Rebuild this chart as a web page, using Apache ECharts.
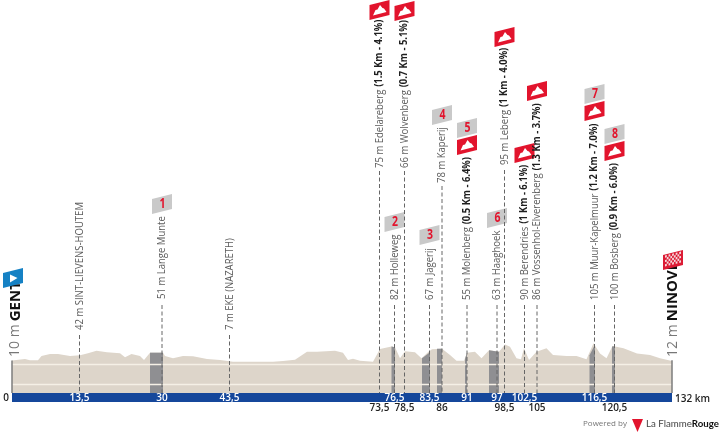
<!DOCTYPE html>
<html>
<head>
<meta charset="utf-8">
<style>html,body{margin:0;padding:0;background:#fff}#c{width:720px;height:435px}</style>
<script src="https://cdn.jsdelivr.net/npm/echarts@6/dist/echarts.min.js"></script>
</head>
<body>
<div id="c"></div>
<script>
// ---- values ----
const profileKm = [0,2.6,3.6,5.2,5.9,7.6,9.2,11.6,13.6,15.2,16.9,19,21.6,22.6,23.9,25.6,26.4,27.6,30.2,30.6,32.2,34.2,36.2,39,41.6,42,44.2,52.2,54.2,56.6,59,61,64.6,66.2,67.2,68.2,69.6,72.2,73.6,75.9,76.6,77.6,78.6,80.6,81.9,83.3,84,86,87.6,88.9,90.4,91,92.6,93.9,95.4,97.4,98.6,99.6,100.9,101.8,102.4,103.4,104.9,106.9,108.2,110.9,112.9,114.9,116.3,117.6,118.9,120.1,122.3,125,127.6,129.6,132];
const profileElevation = [10,19,12,12,35,47,47,36,40,51,65,56,51,28,47,36,13,54,54,36,23,36,34,19,13,3,3,3,8,15,59,59,65,54,13,20,9,3,75,88,84,23,62,56,23,59,73,76,41,9,9,54,59,23,68,59,100,87,23,18,78,13,59,78,41,35,35,17,106,50,23,91,78,50,41,23,8];
const climbKm = [[27.6,30.2],[75.9,76.6],[82,83.6],[85,86],[90.6,91],[95.4,97.4],[115.5,116.6],[120,120.6]];
const climbElevation = [[54,54],[88,84],[23,57],[76,76],[20,54],[68,59],[40,100],[88,90]];

const pointKm = [13.5,30,43.5,73.5,76.5,78.5,83.5,86,91,97,98.5,102.5,105,116.5,120.5];
const pointNames = ['42 m SINT-LIEVENS-HOUTEM','51 m Lange Munte','7 m EKE (NAZARETH)','75 m Edelareberg','82 m Holleweg','66 m Wolvenberg','67 m Jagerij','78 m Kaperij','55 m Molenberg','63 m Haaghoek','95 m Leberg','90 m Berendries','86 m Vossenhol-Elverenberg','105 m Muur-Kapelmuur','100 m Bosberg'];
const pointDetails = ['','','','(1.5 Km - 4.1%)','','(0.7 Km - 5.1%)','','','(0.5 Km - 6.4%)','','(1 Km - 4.0%)','(1 Km - 6.1%)','(1.3 Km - 3.7%)','(1.2 Km - 7.0%)','(0.9 Km - 6.0%)'];
const sectorNumbers = ['','1','','','2','','3','4','5','6','','','','7','8'];
const hasClimbFlag = [false,false,false,true,false,true,false,false,true,false,true,true,true,true,true];

const kmTicksInBand = [13.5,30,43.5,76.5,83.5,91,97,102.5,116.5];
const kmTicksBelow = [73.5,78.5,86,98.5,105,120.5];
const raceKm = 132, startName = 'GENT', finishName = 'NINOVE', startElevation = 10, finishElevation = 12;
const gridlineElevations = [-9,-120];

// ---- layout, kept apart from the values (page pixels) ----
const elevMin = -170, elevMax = 2013;
const textStartPx = [330,299,330,168,300,168,300,183,300,300,165,300,300,300,300];
const lineTopPx   = [335,305,335,171,305,171,305,186,305,305,170,305,305,305,305];
const sectorFlagPx= [0,194,0,0,212,0,225,105,118,208,0,0,0,84,124];
const climbFlagPx = [0,0,0,0,0,1,0,0,135,0,27,143,81,101,141];

const FONT = '"Open Sans", sans-serif';
const RED = '#e2142d', GREY = '#c9c9c9', TXT = '#5c5c5c', DARK = '#1f1f1f';

function flagPts(l, t) { return [[l,t+5],[l+20,t],[l+20,t+15],[l,t+20]]; }
function poly(pts, fill) { return {type:'polygon', shape:{points:pts}, style:{fill:fill}}; }
function mountain(l, t) {
  return poly([[3.5,15.5],[6,10],[8,9.5],[10.5,5],[13,8],[14.5,8.5],[17,12]].map(p=>[l+p[0],t+p[1]]), '#fff');
}
function rotText(x, y, text, rich, scaleX) {
  return {type:'text', x:x, y:y, rotation:Math.PI/2, scaleX:scaleX||1, silent:true,
    style:{text:text, rich:rich, align:'left', verticalAlign:'middle', fontFamily:FONT}};
}
const rich = {
  n:{fontFamily:FONT, fontSize:10.6, fill:TXT, color:TXT},
  b:{fontFamily:FONT, fontSize:10.4, fontWeight:'bold', fill:DARK, color:DARK}
};
const cityRich = {
  e:{fontFamily:FONT, fontSize:14, fill:'#777', color:'#777'},
  c:{fontFamily:FONT, fontSize:15, fontWeight:'bold', fill:'#111', color:'#111'}
};

function renderPoint(params, api) {
  const i = params.dataIndex;
  const x = api.coord([pointKm[i], 0])[0];
  const base = api.coord([pointKm[i], elevMin])[1];
  const kids = [{type:'line', shape:{x1:x,y1:lineTopPx[i],x2:x,y2:base},
    style:{stroke:'#666', lineWidth:1, lineDash:[4,2.5]}}];
  const t = '{n|'+pointNames[i]+'}' + (pointDetails[i] ? ' {b|'+pointDetails[i]+'}' : '');
  kids.push(rotText(x, textStartPx[i], t, rich, 0.9));
  const l = x - 10;
  if (sectorNumbers[i]) {
    kids.push(poly(flagPts(l, sectorFlagPx[i]), GREY));
    kids.push({type:'text', x:l+10.5, y:sectorFlagPx[i]+10, scaleX:0.75, silent:true, style:{text:sectorNumbers[i], align:'center', verticalAlign:'middle', fontFamily:FONT, fontWeight:'bold', fontSize:14, fill:RED}});
  }
  if (hasClimbFlag[i]) {
    kids.push(poly(flagPts(l, climbFlagPx[i]), RED));
    kids.push(mountain(l, climbFlagPx[i]));
  }
  return {type:'group', children:kids};
}

function renderEnds(params, api) {
  const kids = [];
  const isStart = params.dataIndex === 0;
  const km = isStart ? 0 : raceKm;
  const elev = isStart ? startElevation : finishElevation;
  const x = api.coord([km, 0])[0];
  const base = api.coord([km, elevMin])[1];
  kids.push({type:'line', shape:{x1:x,y1:api.coord([km,elev])[1],x2:x,y2:base}, style:{stroke:'#7d7d7d', lineWidth:1.5}});
  const tx = isStart ? x + 3.5 : x + 1;
  kids.push(rotText(tx, 357, '{e|'+elev+' m} {c|'+(isStart?startName:finishName)+'}', cityRich));
  if (isStart) {
    const l = x - 9, t = 268;
    kids.push(poly(flagPts(l, t), '#1581c4'));
    kids.push(poly([[l+7,t+6.5],[l+14.5,t+10],[l+7,t+14.5]], '#fff'));
  } else {
    const l = x - 9, t = 250;
    kids.push(poly(flagPts(l, t), '#dc1c35'));
    const cols = 9, rows = 5, cw = 16/cols, ch = 11/rows, sk = 5/20;
    for (let r = 0; r < rows; r++) for (let c = 0; c < cols; c++) {
      if ((r + c) % 2) continue;
      const x0 = l + 2 + c*cw, y0 = t + 5 + r*ch + 1 - (c*cw+2)*sk;
      kids.push(poly([[x0,y0],[x0+cw,y0-cw*sk],[x0+cw,y0-cw*sk+ch],[x0,y0+ch]], '#f6d9dc'));
    }
  }
  return {type:'group', children:kids};
}

function renderBandEnds(params, api) {
  const p0 = api.coord([0, elevMin]), p1 = api.coord([raceKm, elevMin]);
  return {type:'group', children:[
    {type:'text', x:p0[0]-6, y:p0[1]+5, silent:true, style:{text:'0', align:'center', verticalAlign:'middle', fontFamily:FONT, fontWeight:600, fontSize:10, fill:DARK}},
    {type:'text', x:p1[0]+3, y:p1[1]+6, silent:true, style:{text:raceKm+' km', align:'left', verticalAlign:'middle', fontFamily:FONT, fontWeight:600, fontSize:10, fill:DARK}}
  ]};
}

const fmt = v => String(v).replace('.', ',');
const series = [{
  type:'line', data:profileKm.map((k,i)=>[k,profileElevation[i]]),
  showSymbol:false, symbol:'none', smooth:false, lineStyle:{width:0}, z:1,
  areaStyle:{color:'#ddd5ca', opacity:1, origin:'start'},
  markLine:{silent:true, symbol:'none', label:{show:false}, animation:false,
    lineStyle:{color:'#f5f0e6', width:1.4, type:'solid'},
    data:gridlineElevations.map(v=>({yAxis:v}))}
}];
climbKm.forEach((kms,c)=>series.push({
  type:'line', data:kms.map((k,i)=>[k,climbElevation[c][i]]),
  showSymbol:false, symbol:'none', lineStyle:{width:0}, z:2,
  areaStyle:{color:'#8f8f92', opacity:1, origin:'start'}
}));
series.push({type:'custom', renderItem:renderPoint, data:pointKm.map(k=>[k]), clip:false, z:5, silent:true});
series.push({type:'custom', renderItem:renderEnds, data:[[0],[raceKm]], clip:false, z:5, silent:true});
series.push({type:'custom', renderItem:renderBandEnds, data:[[0]], clip:false, z:5, silent:true});

const chart = echarts.init(document.getElementById('c'), null, {renderer:'canvas'});
chart.setOption({
  animation:false,
  backgroundColor:'#fff',
  grid:{left:12, right:48, top:0, bottom:42},
  tooltip:{show:false},
  legend:{show:false},
  xAxis:[{
    type:'value', min:0, max:raceKm, position:'bottom', offset:4.5, splitLine:{show:false}, axisTick:{show:false},
    axisLine:{show:true, onZero:false, lineStyle:{color:'#15479b', width:9, cap:'butt'}},
    axisLabel:{customValues:kmTicksInBand, formatter:fmt, margin:-4.5, color:'#fff', fontFamily:FONT, fontWeight:600, fontSize:10}
  },{
    type:'value', min:0, max:raceKm, position:'bottom', offset:0, splitLine:{show:false}, axisTick:{show:false}, axisLine:{show:false, onZero:false},
    axisLabel:{customValues:kmTicksBelow, formatter:fmt, margin:10, color:DARK, fontFamily:FONT, fontWeight:600, fontSize:10}
  }],
  yAxis:{type:'value', min:elevMin, max:elevMax, show:false, splitLine:{show:false}},
  series:series,
  graphic:[
    {type:'text', left:583, top:420, silent:true, style:{text:'Powered by', fontFamily:FONT, fontSize:8, fill:'#777'}},
    {type:'polygon', silent:true, shape:{points:[[632,419],[643,419],[637.5,432]]}, style:{fill:RED}},
    {type:'text', left:646, top:419, silent:true, style:{text:'{a|La Flamme}{b|Rouge}', rich:{a:{fontFamily:'Lato, sans-serif', fontSize:9.7, fill:'#444', color:'#444'}, b:{fontFamily:'Lato, sans-serif', fontSize:9.7, fontWeight:'bold', fill:'#111', color:'#111'}}}}
  ]
});
</script>
</body>
</html>
